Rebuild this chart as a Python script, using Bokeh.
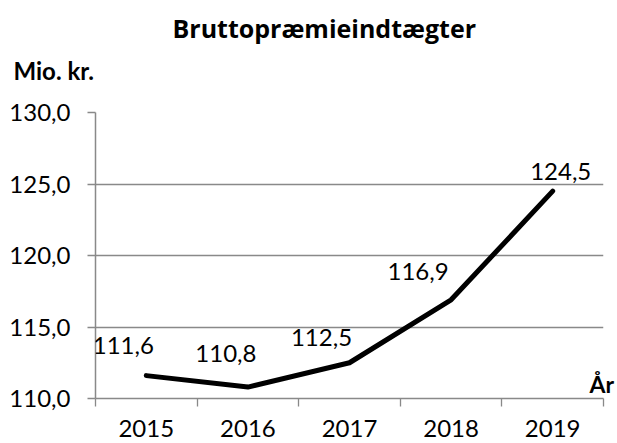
from bokeh.plotting import figure
from bokeh.models import (ColumnDataSource, FixedTicker, CustomJSTickFormatter,
                          LabelSet, Range1d, Title, LinearAxis)
from bokeh.core.properties import value
from bokeh.embed import file_html
from bokeh.resources import INLINE

# ---- data ----
years = ["2015", "2016", "2017", "2018", "2019"]
values = [111.6, 110.8, 112.5, 116.9, 124.5]
y_ticks = [110, 115, 120, 125, 130]
title_text = "Bruttopræmieindtægter"
y_unit = "Mio. kr."
x_name = "År"

# ---- label styling (screen offsets of data labels) ----
label_dx = [-23, -22, -28, -33, 8]
label_dy = [22, 25, 17, 20, 11]
x_name_level = 111.0   # vertical anchor of the "År" caption

FONT = "Lato"
TITLE_FONT = "Open Sans"
GRAY = "#898989"

xs = [i + 0.5 for i in range(len(years))]
src = ColumnDataSource(dict(
    x=xs, y=values,
    txt=[f"{v:.1f}".replace(".", ",") for v in values],
    dx=label_dx, dy=label_dy,
))

p = figure(width=617, height=443, output_backend="svg", toolbar_location=None,
           x_range=Range1d(0, len(years)), y_range=Range1d(y_ticks[0], y_ticks[-1]),
           min_border_left=95, min_border_right=12, min_border_top=112,
           min_border_bottom=45)
p.outline_line_color = None
p.background_fill_color = "white"
p.border_fill_color = "white"

# y axis
yt = FixedTicker(ticks=y_ticks)
p.yaxis.ticker = yt
p.yaxis.formatter = CustomJSTickFormatter(code="return tick.toFixed(1).replace('.', ',');")
p.yaxis.major_label_text_font = FONT
p.yaxis.major_label_text_font_size = "24px"
p.yaxis.major_label_text_color = "black"
p.yaxis.major_tick_out = 8
p.yaxis.major_tick_in = 0
p.yaxis.minor_tick_line_color = None
p.yaxis.major_label_standoff = 17
p.yaxis.axis_line_color = GRAY
p.yaxis.axis_line_width = 1.5
p.yaxis.major_tick_line_color = GRAY
p.yaxis.major_tick_line_width = 1.3

# x axis: labels at category centres, tick marks at category boundaries
xt = FixedTicker(ticks=xs, minor_ticks=list(range(len(years) + 1)))
p.xaxis.ticker = xt
p.xaxis.major_label_overrides = {x: y for x, y in zip(xs, years)}
p.xaxis.major_tick_line_color = None
p.xaxis.major_tick_out = 8
p.xaxis.major_tick_in = 0
p.xaxis.minor_tick_out = 8
p.xaxis.minor_tick_in = 0
p.xaxis.minor_tick_line_color = GRAY
p.xaxis.minor_tick_line_width = 1.3
p.xaxis.axis_line_color = GRAY
p.xaxis.axis_line_width = 1.5
p.xaxis.major_label_text_font = FONT
p.xaxis.major_label_text_font_size = "24px"
p.xaxis.major_label_text_color = "black"
p.xaxis.major_label_standoff = 13

p.xgrid.grid_line_color = None
p.ygrid.ticker = yt
p.ygrid.grid_line_color = GRAY
p.ygrid.grid_line_width = 1.3

# "År" caption as a bare right axis
rax = LinearAxis(ticker=FixedTicker(ticks=[x_name_level]),
                 major_label_overrides={x_name_level: x_name})
rax.axis_line_color = None
rax.major_tick_line_color = None
rax.minor_tick_line_color = None
rax.major_tick_out = 0
rax.major_tick_in = 0
rax.major_label_standoff = -14
rax.major_label_text_font = FONT
rax.major_label_text_font_style = "bold"
rax.major_label_text_font_size = "23px"
rax.major_label_text_color = "black"
p.add_layout(rax, "right")

p.line("x", "y", source=src, line_color="black", line_width=5,
       line_join="round", line_cap="round")

p.add_layout(LabelSet(x="x", y="y", text="txt", source=src, x_offset="dx", y_offset="dy",
                      text_font=value(FONT), text_font_size="24px", text_color="black",
                      text_align="center", text_baseline="alphabetic"))

t_unit = Title(text=y_unit, align="left", offset=-82, text_font=FONT,
               text_font_style="bold", text_font_size="24px", text_color="black",
               standoff=56)
t_main = Title(text=title_text, align="left", offset=77, text_font=TITLE_FONT,
               text_font_style="bold", text_font_size="25px", text_color="black",
               standoff=-38)
p.add_layout(t_unit, "above")
p.add_layout(t_main, "above")

open("out.html", "w").write(file_html(p, INLINE))
